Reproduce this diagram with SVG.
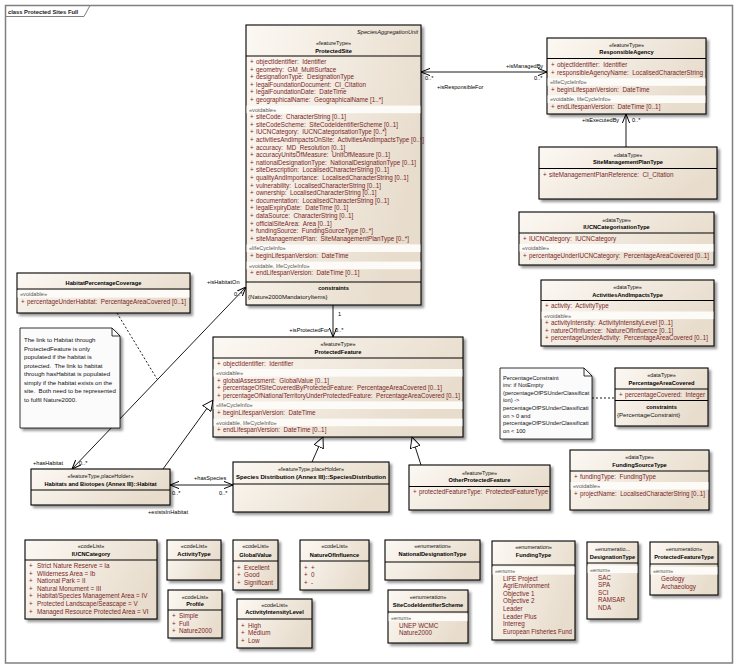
<svg xmlns="http://www.w3.org/2000/svg" width="737" height="670" viewBox="0 0 737 670">
<defs>
<linearGradient id="bg" x1="0" y1="0" x2="1" y2="0.4">
<stop offset="0" stop-color="#fcf8f3"/><stop offset="1" stop-color="#e8ddcd"/>
</linearGradient>
<filter id="ds" x="-10%" y="-10%" width="130%" height="130%">
<feDropShadow dx="2.5" dy="2.5" stdDeviation="1.2" flood-color="#000" flood-opacity="0.4"/>
</filter>
<marker id="op" viewBox="0 0 10 10" refX="10" refY="5" markerWidth="9" markerHeight="9" markerUnits="userSpaceOnUse" orient="auto-start-reverse">
<path d="M0,1 L10,5 L0,9" fill="none" stroke="#000" stroke-width="1.1"/>
</marker>
<marker id="tri" viewBox="0 0 12 12" refX="12" refY="6" markerWidth="11" markerHeight="11" markerUnits="userSpaceOnUse" orient="auto">
<path d="M0.5,0.5 L12,6 L0.5,11.5 Z" fill="#fff" stroke="#000" stroke-width="1"/>
</marker>
</defs>
<style>
text{font-family:"Liberation Sans",Arial,sans-serif}
.box{fill:url(#bg);stroke:#000;stroke-width:1.1;filter:url(#ds)}
.note{fill:#fbfbfc;stroke:#000;stroke-width:0.8;filter:url(#ds)}
.sep{stroke:#000;stroke-width:1}
.band{fill:#fdfbf8}
.st{font-size:5.5px;text-anchor:middle;fill:#111}
.nm{font-size:5.7px;font-weight:bold;text-anchor:middle;fill:#000}
.it{font-size:5.7px;font-style:italic;text-anchor:end;fill:#111}
.at{font-size:6.3px;fill:#7a1f1f}
.gr{font-size:5.6px;fill:#555}
.lb{font-size:5.6px;fill:#000}
.nt{font-size:6.1px;fill:#111}
.nt2{font-size:5.75px;fill:#111}
.cn{stroke:#000;stroke-width:0.9;fill:none}
.dash{stroke-dasharray:2,2}
</style>
<rect width="737" height="670" fill="#fff"/>
<g id="frame">
<rect x="5.5" y="5.5" width="727" height="657.5" fill="none" stroke="#808080" stroke-width="1.5"/>
<path d="M5.5,16.5 H84 L90,5.5" fill="none" stroke="#808080" stroke-width="1"/>
<text x="8" y="13.5" style="font-size:5.8px;font-weight:bold;fill:#222">class Protected Sites Full</text>
</g>

<g id="connectors">
<line class="cn" x1="421" y1="72" x2="547" y2="72" marker-start="url(#op)" marker-end="url(#op)"/>
<text class="lb" x="506" y="68">+isManagedBy</text>
<text class="lb" x="534" y="80">0..*</text>
<text class="lb" x="425" y="80">0..*</text>
<text class="lb" x="437" y="88.5">+isResponsibleFor</text>
<line class="cn" x1="626" y1="147" x2="626" y2="114" marker-end="url(#op)"/>
<text class="lb" x="582" y="122">+isExecutedBy</text>
<text class="lb" x="632" y="122">0..*</text>
<line class="cn" x1="333" y1="305" x2="333" y2="337" marker-end="url(#op)"/>
<text class="lb" x="338" y="316">1</text>
<text class="lb" x="329" y="331.5" text-anchor="end">+isProtectedFor</text>
<text class="lb" x="335" y="331.5">0..*</text>
<line class="cn" x1="72" y1="469" x2="246" y2="287" marker-start="url(#op)" marker-end="url(#op)"/>
<text class="lb" x="207" y="284">+isHabitatOn</text>
<text class="lb" x="234" y="296">0..*</text>
<text class="lb" x="33" y="465">+hasHabitat</text>
<text class="lb" x="79" y="465">0..*</text>
<line class="cn dash" x1="117" y1="313" x2="157" y2="379"/>
<line class="cn" x1="170" y1="485" x2="233" y2="485" marker-start="url(#op)" marker-end="url(#op)"/>
<text class="lb" x="194" y="480">+hasSpecies</text>
<text class="lb" x="172" y="495">0..*</text>
<text class="lb" x="219" y="495">0..*</text>
<text class="lb" x="148" y="513.5">+existsInHabitat</text>
<line class="cn" x1="163" y1="469" x2="213" y2="400" marker-end="url(#tri)"/>
<line class="cn" x1="312" y1="462" x2="323" y2="437" marker-end="url(#tri)"/>
<line class="cn" x1="421" y1="465" x2="412" y2="437" marker-end="url(#tri)"/>
<line class="cn dash" x1="592" y1="398" x2="615" y2="398"/>
</g>

<g id="ProtectedSite">
<rect class="box" x="246" y="25" width="175" height="280"/>
<text class="it" x="418" y="34">SpeciesAggregationUnit</text>
<text class="st" x="333.5" y="45">«featureType»</text>
<text class="nm" x="333.5" y="52.5">ProtectedSite</text>
<line class="sep" x1="246" y1="56" x2="421" y2="56"/>
<rect class="band" x="246.6" y="105.6" width="173.8" height="7.6"/>
<rect class="band" x="246.6" y="244.4" width="173.8" height="7.6"/>
<rect class="band" x="246.6" y="261.6" width="173.8" height="7.6"/>
<text class="at" y="64"><tspan x="250">+</tspan><tspan x="256">objectIdentifier:&#160; Identifier</tspan></text>
<text class="at" y="71.6"><tspan x="250">+</tspan><tspan x="256">geometry:&#160; GM_MultiSurface</tspan></text>
<text class="at" y="79.2"><tspan x="250">+</tspan><tspan x="256">designationType:&#160; DesignationType</tspan></text>
<text class="at" y="86.8"><tspan x="250">+</tspan><tspan x="256">legalFoundationDocument:&#160; CI_Citation</tspan></text>
<text class="at" y="94.4"><tspan x="250">+</tspan><tspan x="256">legalFoundationDate:&#160; DateTime</tspan></text>
<text class="at" y="102"><tspan x="250">+</tspan><tspan x="256">geographicalName:&#160; GeographicalName [1..*]</tspan></text>
<text class="gr" x="249" y="111.6">«voidable»</text>
<text class="at" y="119.2"><tspan x="250">+</tspan><tspan x="256">siteCode:&#160; CharacterString [0..1]</tspan></text>
<text class="at" y="126.8"><tspan x="250">+</tspan><tspan x="256">siteCodeScheme:&#160; SiteCodeIdentifierScheme [0..1]</tspan></text>
<text class="at" y="134.4"><tspan x="250">+</tspan><tspan x="256">IUCNCategory:&#160; IUCNCategorisationType [0..*]</tspan></text>
<text class="at" y="142"><tspan x="250">+</tspan><tspan x="256">activitiesAndImpactsOnSite:&#160; ActivitiesAndImpactsType [0..*]</tspan></text>
<text class="at" y="149.6"><tspan x="250">+</tspan><tspan x="256">accuracy:&#160; MD_Resolution [0..1]</tspan></text>
<text class="at" y="157.2"><tspan x="250">+</tspan><tspan x="256">accuracyUnitsOfMeasure:&#160; UnitOfMeasure [0..1]</tspan></text>
<text class="at" y="164.8"><tspan x="250">+</tspan><tspan x="256">nationalDesignationType:&#160; NationalDesignationType [0..1]</tspan></text>
<text class="at" y="172.4"><tspan x="250">+</tspan><tspan x="256">siteDescription:&#160; LocalisedCharacterString [0..1]</tspan></text>
<text class="at" y="180"><tspan x="250">+</tspan><tspan x="256">qualityAndImportance:&#160; LocalisedCharacterString [0..1]</tspan></text>
<text class="at" y="187.6"><tspan x="250">+</tspan><tspan x="256">vulnerability:&#160; LocalisedCharacterString [0..1]</tspan></text>
<text class="at" y="195.2"><tspan x="250">+</tspan><tspan x="256">ownership:&#160; LocalisedCharacterString [0..1]</tspan></text>
<text class="at" y="202.8"><tspan x="250">+</tspan><tspan x="256">documentation:&#160; LocalisedCharacterString [0..1]</tspan></text>
<text class="at" y="210.4"><tspan x="250">+</tspan><tspan x="256">legalExpiryDate:&#160; DateTime [0..1]</tspan></text>
<text class="at" y="218"><tspan x="250">+</tspan><tspan x="256">dataSource:&#160; CharacterString [0..1]</tspan></text>
<text class="at" y="225.6"><tspan x="250">+</tspan><tspan x="256">officialSiteArea:&#160; Area [0..1]</tspan></text>
<text class="at" y="233.2"><tspan x="250">+</tspan><tspan x="256">fundingSource:&#160; FundingSourceType [0..*]</tspan></text>
<text class="at" y="240.8"><tspan x="250">+</tspan><tspan x="256">siteManagementPlan:&#160; SiteManagementPlanType [0..*]</tspan></text>
<text class="gr" x="249" y="250.4">«lifeCycleInfo»</text>
<text class="at" y="258"><tspan x="250">+</tspan><tspan x="256">beginLifespanVersion:&#160; DateTime</tspan></text>
<text class="gr" x="249" y="267.6">«voidable, lifeCycleInfo»</text>
<text class="at" y="275.2"><tspan x="250">+</tspan><tspan x="256">endLifespanVersion:&#160; DateTime [0..1]</tspan></text>
<line class="sep" x1="246" y1="282" x2="421" y2="282"/>
<text class="nm" x="333.5" y="290">constraints</text>
<text class="nt" x="248" y="299">{Nature2000MandatoryItems}</text>
</g>

<g id="ResponsibleAgency">
<rect class="box" x="547" y="38" width="159" height="76"/>
<text class="st" x="626.5" y="46.5">«featureType»</text>
<text class="nm" x="626.5" y="54">ResponsibleAgency</text>
<line class="sep" x1="547" y1="58.5" x2="706" y2="58.5"/>
<rect class="band" x="547.6" y="78.2" width="157.8" height="7.6"/>
<rect class="band" x="547.6" y="95.4" width="157.8" height="7.6"/>
<text class="at" y="67"><tspan x="551">+</tspan><tspan x="557">objectIdentifier:&#160; Identifier</tspan></text>
<text class="at" y="74.6"><tspan x="551">+</tspan><tspan x="557">responsibleAgencyName:&#160; LocalisedCharacterString</tspan></text>
<text class="gr" x="550" y="84.2">«lifeCycleInfo»</text>
<text class="at" y="91.8"><tspan x="551">+</tspan><tspan x="557">beginLifespanVersion:&#160; DateTime</tspan></text>
<text class="gr" x="550" y="101.4">«voidable, lifeCycleInfo»</text>
<text class="at" y="109"><tspan x="551">+</tspan><tspan x="557">endLifespanVersion:&#160; DateTime [0..1]</tspan></text>
</g>

<g id="SiteManagementPlanType">
<rect class="box" x="539" y="147" width="178" height="52"/>
<text class="st" x="628" y="156.5">«dataType»</text>
<text class="nm" x="628" y="164">SiteManagementPlanType</text>
<line class="sep" x1="539" y1="168.5" x2="717" y2="168.5"/>
<text class="at" y="177"><tspan x="543">+</tspan><tspan x="549">siteManagementPlanReference:&#160; CI_Citation</tspan></text>
</g>

<g id="IUCNCategorisationType">
<rect class="box" x="519" y="212" width="195" height="53"/>
<text class="st" x="616.5" y="221.5">«dataType»</text>
<text class="nm" x="616.5" y="229">IUCNCategorisationType</text>
<line class="sep" x1="519" y1="233" x2="714" y2="233"/>
<rect class="band" x="519.6" y="244" width="193.8" height="7.6"/>
<text class="at" y="240.5"><tspan x="523">+</tspan><tspan x="529">IUCNCategory:&#160; IUCNCategory</tspan></text>
<text class="gr" x="522" y="250">«voidable»</text>
<text class="at" y="257.6"><tspan x="523">+</tspan><tspan x="529">percentageUnderIUCNCategory:&#160; PercentageAreaCovered [0..1]</tspan></text>
</g>

<g id="ActivitiesAndImpactsType">
<rect class="box" x="541" y="280" width="173" height="66"/>
<text class="st" x="627.5" y="289">«dataType»</text>
<text class="nm" x="627.5" y="296.5">ActivitiesAndImpactsType</text>
<line class="sep" x1="541" y1="300.5" x2="714" y2="300.5"/>
<rect class="band" x="541.6" y="311.5" width="171.8" height="7.6"/>
<text class="at" y="308"><tspan x="545">+</tspan><tspan x="551">activity:&#160; ActivityType</tspan></text>
<text class="gr" x="544" y="317.5">«voidable»</text>
<text class="at" y="325.1"><tspan x="545">+</tspan><tspan x="551">activityIntensity:&#160; ActivityIntensityLevel [0..1]</tspan></text>
<text class="at" y="332.7"><tspan x="545">+</tspan><tspan x="551">natureOfInfluence:&#160; NatureOfInfluence [0..1]</tspan></text>
<text class="at" y="340.3"><tspan x="545">+</tspan><tspan x="551" textLength="157" lengthAdjust="spacingAndGlyphs">percentageUnderActivity:&#160; PercentageAreaCovered [0..1]</tspan></text>
</g>

<g id="ProtectedFeature">
<rect class="box" x="213" y="337" width="250" height="100"/>
<text class="st" x="338" y="346">«featureType»</text>
<text class="nm" x="338" y="353.5">ProtectedFeature</text>
<line class="sep" x1="213" y1="358" x2="463" y2="358"/>
<rect class="band" x="213.6" y="369" width="248.8" height="7.6"/>
<rect class="band" x="213.6" y="401.4" width="248.8" height="7.6"/>
<rect class="band" x="213.6" y="418.6" width="248.8" height="7.6"/>
<text class="at" y="365.5"><tspan x="217">+</tspan><tspan x="223">objectIdentifier:&#160; Identifier</tspan></text>
<text class="gr" x="216" y="375">«voidable»</text>
<text class="at" y="382.6"><tspan x="217">+</tspan><tspan x="223">globalAssessment:&#160; GlobalValue [0..1]</tspan></text>
<text class="at" y="390.2"><tspan x="217">+</tspan><tspan x="223">percentageOfSiteCoveredByProtectedFeature:&#160; PercentageAreaCovered [0..1]</tspan></text>
<text class="at" y="397.8"><tspan x="217">+</tspan><tspan x="223" textLength="237" lengthAdjust="spacingAndGlyphs">percentageOfNationalTerritoryUnderProtectedFeature:&#160; PercentageAreaCovered [0..1]</tspan></text>
<text class="gr" x="216" y="407.4">«lifeCycleInfo»</text>
<text class="at" y="415"><tspan x="217">+</tspan><tspan x="223">beginLifespanVersion:&#160; DateTime</tspan></text>
<text class="gr" x="216" y="424.6">«voidable, lifeCycleInfo»</text>
<text class="at" y="432.2"><tspan x="217">+</tspan><tspan x="223">endLifespanVersion:&#160; DateTime [0..1]</tspan></text>
</g>

<g id="HabitatPercentageCoverage">
<rect class="box" x="17" y="273" width="173" height="40"/>
<text class="nm" x="103.5" y="284.5">HabitatPercentageCoverage</text>
<line class="sep" x1="17" y1="289" x2="190" y2="289"/>
<rect class="band" x="17.6" y="290" width="171.8" height="7.6"/>
<text class="gr" x="20" y="296">«voidable»</text>
<text class="at" y="303.6"><tspan x="21">+</tspan><tspan x="27">percentageUnderHabitat:&#160; PercentageAreaCovered [0..1]</tspan></text>
</g>

<g id="HabitatNote">
<path class="note" d="M20,328 H112 L120,336 V428 H20 Z"/>
<path d="M112,328 V336 H120" fill="none" stroke="#000" stroke-width="0.8"/>
<text class="nt" x="24" y="342">The link to Habitat through</text>
<text class="nt" x="24" y="350.5">ProtectedFeature is only</text>
<text class="nt" x="24" y="359">populated if the habitat is</text>
<text class="nt" x="24" y="367.5">protected.&#160; The link to habitat</text>
<text class="nt" x="24" y="376">through hasHabitat is populated</text>
<text class="nt" x="24" y="384.5">simply if the habitat exists on the</text>
<text class="nt" x="24" y="393">site.&#160; Both need to be represented</text>
<text class="nt" x="24" y="401.5">to fulfil Nature2000.</text>
</g>

<g id="PercentageConstraintNote">
<path class="note" d="M500,368 H584 L592,376 V439 H500 Z"/>
<path d="M584,368 V376 H592" fill="none" stroke="#000" stroke-width="0.8"/>
<text class="nt2" x="503" y="379.5">PercentageConstraint</text>
<text class="nt2" x="503" y="387.1">inv: if NotEmpty</text>
<text class="nt2" x="503" y="394.7">(percentageOfPSUnderClassificat</text>
<text class="nt2" x="503" y="402.3">ion) -&gt;</text>
<text class="nt2" x="503" y="409.9">percentageOfPSUnderClassificati</text>
<text class="nt2" x="503" y="417.5">on &gt; 0 and</text>
<text class="nt2" x="503" y="425.1">percentageOfPSUnderClassificati</text>
<text class="nt2" x="503" y="432.7">on &lt; 100</text>
</g>

<g id="PercentageAreaCovered">
<rect class="box" x="615" y="368" width="93" height="58"/>
<text class="st" x="661.5" y="377">«dataType»</text>
<text class="nm" x="661.5" y="384.5">PercentageAreaCovered</text>
<line class="sep" x1="615" y1="389" x2="708" y2="389"/>
<text class="at" y="396.5"><tspan x="619">+</tspan><tspan x="625">percentageCovered:&#160; Integer</tspan></text>
<line class="sep" x1="615" y1="400.5" x2="708" y2="400.5"/>
<text class="nm" x="661.5" y="408.5">constraints</text>
<text class="nt" x="617" y="416.5">{PercentageConstraint}</text>
</g>

<g id="FundingSourceType">
<rect class="box" x="570" y="450" width="139" height="60"/>
<text class="st" x="639.5" y="459">«dataType»</text>
<text class="nm" x="639.5" y="466.5">FundingSourceType</text>
<line class="sep" x1="570" y1="471" x2="709" y2="471"/>
<rect class="band" x="570.6" y="482" width="137.8" height="7.6"/>
<text class="at" y="478.5"><tspan x="574">+</tspan><tspan x="580">fundingType:&#160; FundingType</tspan></text>
<text class="gr" x="573" y="488">«voidable»</text>
<text class="at" y="495.6"><tspan x="574">+</tspan><tspan x="580" textLength="125" lengthAdjust="spacingAndGlyphs">projectName:&#160; LocalisedCharacterString [0..1]</tspan></text>
</g>

<g id="OtherProtectedFeature">
<rect class="box" x="409" y="465" width="141" height="45"/>
<text class="st" x="479.5" y="474.5">«featureType»</text>
<text class="nm" x="479.5" y="482">OtherProtectedFeature</text>
<line class="sep" x1="409" y1="486.5" x2="550" y2="486.5"/>
<text class="at" y="494"><tspan x="413">+</tspan><tspan x="419">protectedFeatureType:&#160; ProtectedFeatureType</tspan></text>
</g>

<g id="SpeciesDistribution">
<rect class="box" x="233" y="462" width="156" height="50"/>
<text class="st" x="311" y="470.5">«featureType,placeHolder»</text>
<text class="nm" x="311" y="478.5" textLength="150" lengthAdjust="spacingAndGlyphs">Species Distribution (Annex III)::SpeciesDistribution</text>
<line class="sep" x1="233" y1="484" x2="389" y2="484"/>
</g>

<g id="Habitat">
<rect class="box" x="31" y="469" width="139" height="36"/>
<text class="st" x="100.5" y="477.5">«featureType,placeHolder»</text>
<text class="nm" x="100.5" y="485.5">Habitats and Biotopes (Annex III)::Habitat</text>
<line class="sep" x1="31" y1="490" x2="170" y2="490"/>
</g>

<g id="IUCNCategory">
<rect class="box" x="25" y="540" width="132" height="79"/>
<text class="st" x="91" y="548">«codeList»</text>
<text class="nm" x="91" y="556">IUCNCategory</text>
<line class="sep" x1="25" y1="560" x2="157" y2="560"/>
<text class="at" y="568"><tspan x="29">+</tspan><tspan x="37">Strict Nature Reserve = Ia</tspan></text>
<text class="at" y="575.6"><tspan x="29">+</tspan><tspan x="37">Wilderness Area = Ib</tspan></text>
<text class="at" y="583.2"><tspan x="29">+</tspan><tspan x="37">National Park = II</tspan></text>
<text class="at" y="590.8"><tspan x="29">+</tspan><tspan x="37">Natural Monument = III</tspan></text>
<text class="at" y="598.4"><tspan x="29">+</tspan><tspan x="37">Habitat/Species Management Area = IV</tspan></text>
<text class="at" y="606"><tspan x="29">+</tspan><tspan x="37">Protected Landscape/Seascape = V</tspan></text>
<text class="at" y="613.6"><tspan x="29">+</tspan><tspan x="37">Managed Resource Protected Area = VI</tspan></text>
</g>

<g id="ActivityType">
<rect class="box" x="167" y="540" width="54" height="40"/>
<text class="st" x="194" y="548">«codeList»</text>
<text class="nm" x="194" y="555.5">ActivityType</text>
<line class="sep" x1="167" y1="560" x2="221" y2="560"/>
</g>

<g id="Profile">
<rect class="box" x="168" y="590" width="54" height="48"/>
<text class="st" x="195" y="598.5">«codeList»</text>
<text class="nm" x="195" y="606">Profile</text>
<line class="sep" x1="168" y1="610" x2="222" y2="610"/>
<text class="at" y="618"><tspan x="172">+</tspan><tspan x="179">Simple</tspan></text>
<text class="at" y="625.6"><tspan x="172">+</tspan><tspan x="179">Full</tspan></text>
<text class="at" y="633.2"><tspan x="172">+</tspan><tspan x="179">Nature2000</tspan></text>
</g>

<g id="GlobalValue">
<rect class="box" x="233" y="540" width="45" height="50"/>
<text class="st" x="255.5" y="548">«codeList»</text>
<text class="nm" x="255.5" y="557">GlobalValue</text>
<line class="sep" x1="233" y1="561" x2="278" y2="561"/>
<text class="at" y="569.5"><tspan x="237">+</tspan><tspan x="244">Excellent</tspan></text>
<text class="at" y="577"><tspan x="237">+</tspan><tspan x="244">Good</tspan></text>
<text class="at" y="584.5"><tspan x="237">+</tspan><tspan x="244">Significant</tspan></text>
</g>

<g id="NatureOfInfluence">
<rect class="box" x="300" y="540" width="69" height="50"/>
<text class="st" x="334.5" y="548">«codeList»</text>
<text class="nm" x="334.5" y="557">NatureOfInfluence</text>
<line class="sep" x1="300" y1="561" x2="369" y2="561"/>
<text class="at" y="569.5"><tspan x="304">+</tspan><tspan x="311">+</tspan></text>
<text class="at" y="577"><tspan x="304">+</tspan><tspan x="311">0</tspan></text>
<text class="at" y="584.5"><tspan x="304">+</tspan><tspan x="311">-</tspan></text>
</g>

<g id="ActivityIntensityLevel">
<rect class="box" x="237" y="599" width="75" height="49"/>
<text class="st" x="274.5" y="606.5">«codeList»</text>
<text class="nm" x="274.5" y="614">ActivityIntensityLevel</text>
<line class="sep" x1="237" y1="619" x2="312" y2="619"/>
<text class="at" y="627.5"><tspan x="241">+</tspan><tspan x="248">High</tspan></text>
<text class="at" y="635"><tspan x="241">+</tspan><tspan x="248">Medium</tspan></text>
<text class="at" y="642.5"><tspan x="241">+</tspan><tspan x="248">Low</tspan></text>
</g>

<g id="NationalDesignationType">
<rect class="box" x="385" y="540" width="95" height="40"/>
<text class="st" x="432.5" y="548">«enumeration»</text>
<text class="nm" x="432.5" y="556">NationalDesignationType</text>
<line class="sep" x1="385" y1="562" x2="480" y2="562"/>
</g>

<g id="SiteCodeIdentifierScheme">
<rect class="box" x="388" y="590" width="80" height="53"/>
<text class="st" x="428" y="599">«enumeration»</text>
<text class="nm" x="428" y="607">SiteCodeIdentifierScheme</text>
<line class="sep" x1="388" y1="612" x2="468" y2="612"/>
<rect class="band" x="388.6" y="613.5" width="78.8" height="7.6"/>
<text class="gr" x="391" y="619.5">«enum»</text>
<text class="at" x="399" y="627.5">UNEP WCMC</text>
<text class="at" x="399" y="635">Nature2000</text>
</g>

<g id="FundingType">
<rect class="box" x="492" y="541" width="83" height="99"/>
<text class="st" x="533.5" y="549">«enumeration»</text>
<text class="nm" x="533.5" y="556.5">FundingType</text>
<line class="sep" x1="492" y1="565" x2="575" y2="565"/>
<rect class="band" x="492.6" y="567" width="81.8" height="7.6"/>
<text class="gr" x="495" y="573">«enum»</text>
<text class="at" x="503" y="580.6">LIFE Project</text>
<text class="at" x="503" y="588.2">AgriEnvironment</text>
<text class="at" x="503" y="595.8">Objective 1</text>
<text class="at" x="503" y="603.4">Objective 2</text>
<text class="at" x="503" y="611">Leader</text>
<text class="at" x="503" y="618.6">Leader Plus</text>
<text class="at" x="503" y="626.2">Interreg</text>
<text class="at" x="503" y="633.8" textLength="69" lengthAdjust="spacingAndGlyphs">European Fisheries Fund</text>
</g>

<g id="DesignationType">
<rect class="box" x="587" y="542" width="51" height="77"/>
<text class="st" x="612.5" y="551">«enumeratio...</text>
<text class="nm" x="612.5" y="558.5">DesignationType</text>
<line class="sep" x1="587" y1="563" x2="638" y2="563"/>
<rect class="band" x="587.6" y="565.5" width="49.8" height="7.6"/>
<text class="gr" x="590" y="571.5">«enum»</text>
<text class="at" x="598" y="579.5">SAC</text>
<text class="at" x="598" y="587">SPA</text>
<text class="at" x="598" y="594.6">SCI</text>
<text class="at" x="598" y="602.2">RAMSAR</text>
<text class="at" x="598" y="609.8">NDA</text>
</g>

<g id="ProtectedFeatureType">
<rect class="box" x="650" y="542" width="68" height="53"/>
<text class="st" x="684" y="551">«enumeration»</text>
<text class="nm" x="684" y="558.5">ProtectedFeatureType</text>
<line class="sep" x1="650" y1="564" x2="718" y2="564"/>
<rect class="band" x="650.6" y="567" width="66.8" height="7.6"/>
<text class="gr" x="653" y="573">«enum»</text>
<text class="at" x="661" y="581">Geology</text>
<text class="at" x="661" y="588.6">Archaeology</text>
</g>
</svg>
